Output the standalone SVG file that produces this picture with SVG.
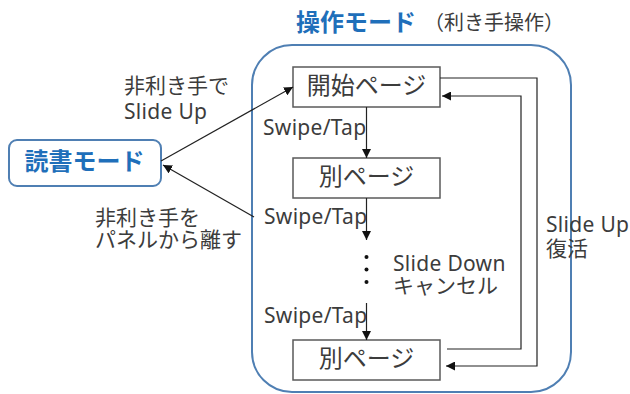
<svg xmlns="http://www.w3.org/2000/svg" width="630" height="394" viewBox="0 0 630 394">
<style>
text{font-family:"Noto Sans","Noto Sans CJK JP",sans-serif;fill:#3c3c3c}
.lbl{font-size:21px}
.lat{letter-spacing:0.3px}
.pg{font-size:24px;text-anchor:middle}
.ttl{font-size:24px;font-weight:bold;fill:#1f6fba}
.page{fill:#fff;stroke:#5a5a5a;stroke-width:1.5}
.ln{fill:none;stroke:#222;stroke-width:1.2}
</style>
<defs>
<marker id="ah" viewBox="0 0 10 10" refX="10" refY="5" markerWidth="9" markerHeight="9" markerUnits="userSpaceOnUse" orient="auto">
<path d="M0,0 L10,5 L0,10 z" fill="#111"/>
</marker>
</defs>
<g id="operation-mode">
<rect x="252" y="45" width="319" height="347" rx="40" ry="40" fill="none" stroke="#4f7fb3" stroke-width="2"/>
<text class="ttl" x="296" y="31">操作モード</text>
<text x="424" y="30" style="font-size:20px">（利き手操作）</text>
</g>
<g id="reading-mode">
<rect x="9" y="140" width="152" height="46" rx="8" ry="8" fill="#fff" stroke="#4f7fb3" stroke-width="2"/>
<text class="ttl" x="84.5" y="170" text-anchor="middle">読書モード</text>
</g>
<g id="start-page">
<rect class="page" x="293" y="67" width="147" height="40"/>
<text class="pg" x="366.5" y="93.5">開始ページ</text>
</g>
<g id="page2">
<rect class="page" x="293" y="158" width="147" height="40"/>
<text class="pg" x="366.5" y="185">別ページ</text>
</g>
<g id="page3">
<rect class="page" x="293" y="340" width="147" height="40"/>
<text class="pg" x="366.5" y="367">別ページ</text>
</g>
<g id="connectors">
<line class="ln" x1="161" y1="161" x2="293" y2="87" marker-end="url(#ah)"/>
<line class="ln" x1="254" y1="217" x2="163" y2="165" marker-end="url(#ah)"/>
<line class="ln" x1="366.5" y1="107" x2="366.5" y2="158" marker-end="url(#ah)"/>
<line class="ln" x1="366.5" y1="198" x2="366.5" y2="240" marker-end="url(#ah)"/>
<line class="ln" x1="366.5" y1="303" x2="366.5" y2="340" marker-end="url(#ah)"/>
<polyline class="ln" points="440,78 537,78 537,366 446,366" marker-end="url(#ah)"/>
<polyline class="ln" points="447,349 521,349 521,96 442,96" marker-end="url(#ah)"/>
<circle cx="366.5" cy="257" r="2" fill="#111"/>
<circle cx="366.5" cy="269.5" r="2" fill="#111"/>
<circle cx="366.5" cy="282" r="2" fill="#111"/>
</g>
<g id="labels">
<text class="lbl" x="124" y="93">非利き手で</text>
<text class="lbl lat" x="124" y="119">Slide Up</text>
<text class="lbl" x="95" y="225">非利き手を</text>
<text class="lbl" x="95" y="247">パネルから離す</text>
<text class="lbl lat" x="263" y="135">Swipe/Tap</text>
<text class="lbl lat" x="264" y="224">Swipe/Tap</text>
<text class="lbl lat" x="264" y="323">Swipe/Tap</text>
<text class="lbl lat" x="393" y="271">Slide Down</text>
<text class="lbl" x="393" y="293">キャンセル</text>
<text class="lbl lat" x="546" y="232">Slide Up</text>
<text class="lbl" x="546" y="256">復活</text>
</g>
</svg>
